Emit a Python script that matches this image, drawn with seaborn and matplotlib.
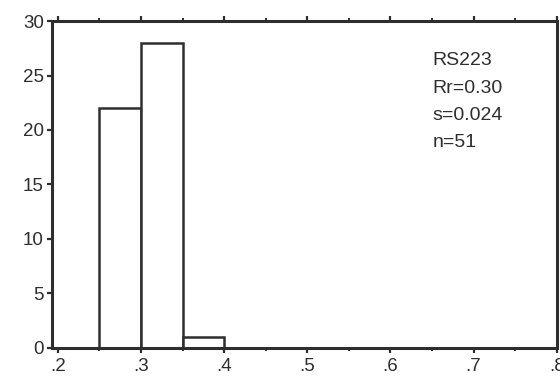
import numpy as np
import pandas as pd
import matplotlib
matplotlib.use("Agg")
import matplotlib.pyplot as plt
import seaborn as sns
from matplotlib.ticker import MultipleLocator, FuncFormatter

# Histogram of ratio values, sample RS223
bin_centers = [0.275, 0.325, 0.375]
counts = [22, 28, 1]
bin_range = (0.20, 0.80)
bin_width = 0.05
x_ticks = [0.2, 0.3, 0.4, 0.5, 0.6, 0.7, 0.8]
y_ticks = [0, 5, 10, 15, 20, 25, 30]
stats_lines = ["RS223", "Rr=0.30", "s=0.024", "n=51"]

sns.set_theme(style="white")
plt.rcParams["font.family"] = ["Liberation Sans", "DejaVu Sans"]

ink = "#2e2e2e"
fig = plt.figure(figsize=(5.6, 3.77), dpi=100)
ax = fig.add_axes([0.093, 0.078, 0.901, 0.866])

df = pd.DataFrame({"ratio": bin_centers, "count": counts})
sns.histplot(data=df, x="ratio", weights="count", binwidth=bin_width,
             binrange=bin_range, stat="count", fill=True, color="white",
             edgecolor=ink, linewidth=1.8, alpha=1, ax=ax)

ax.set_xlim(0.193, 0.8)
ax.set_ylim(0, 30)
ax.set_xticks(x_ticks)
ax.xaxis.set_minor_locator(MultipleLocator(0.05))
ax.set_yticks(y_ticks)
ax.xaxis.set_major_formatter(FuncFormatter(lambda v, p: f"{v:.1f}".lstrip("0")))
ax.set_xlabel("")
ax.set_ylabel("")

for s in ax.spines.values():
    s.set_visible(True)
    s.set_color(ink)
    s.set_linewidth(2.2)

ax.tick_params(axis="both", which="major", direction="out", length=3.5, width=1.6,
               color=ink, labelcolor=ink, labelsize=13.5)
ax.tick_params(axis="x", which="both", top=True, bottom=True)
ax.tick_params(axis="x", which="major", pad=4)
ax.tick_params(axis="y", which="major", pad=2.5, left=True, right=False)
ax.tick_params(axis="x", which="minor", direction="out", length=2, width=1.4, color=ink)

ax.text(0.754, 0.905, "\n".join(stats_lines), transform=ax.transAxes,
        ha="left", va="top", fontsize=14, color=ink, linespacing=1.8)

fig.savefig("out.png", dpi=100, facecolor="white")
